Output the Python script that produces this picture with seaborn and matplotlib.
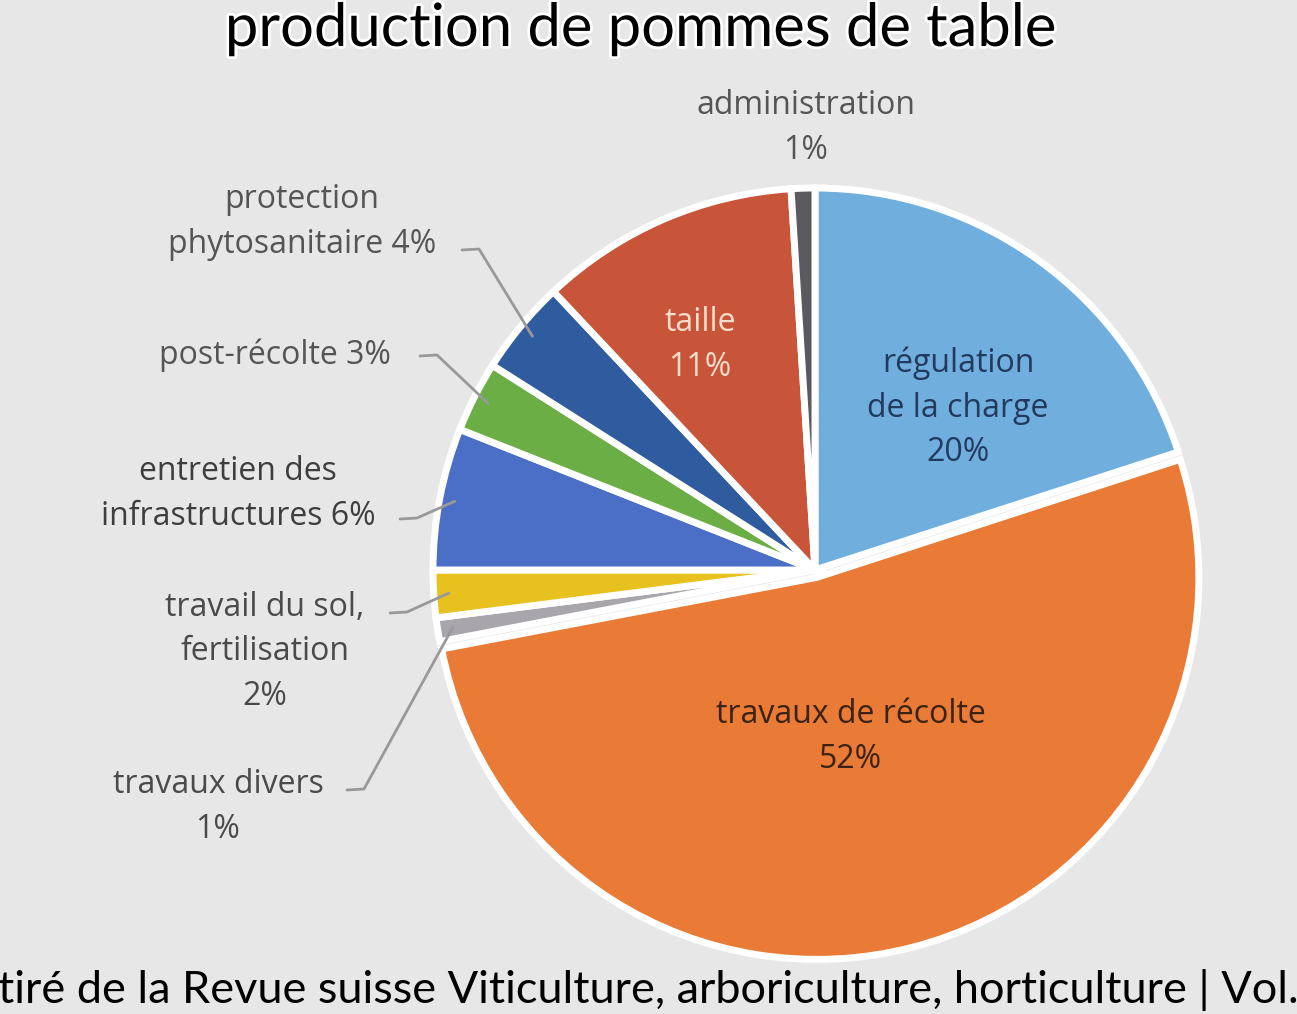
import numpy as np
import matplotlib.pyplot as plt
import matplotlib.patheffects as pe
import seaborn as sns

# --- data (share of working hours, %) ---
categories = ["régulation\nde la charge", "travaux de récolte", "travaux divers",
              "travail du sol,\nfertilisation", "entretien des\ninfrastructures",
              "post-récolte", "protection\nphytosanitaire", "taille", "administration"]
values = [20, 52, 1, 2, 6, 3, 4, 11, 1]
pct_sep = ["\n", "\n", "\n", "\n", " ", " ", " ", "\n", "\n"]
colors = ["#6FAEDD", "#E97B36", "#A9A5AD", "#E7C21E", "#4B6FC6",
          "#6CAE46", "#2F5C9F", "#C8543A", "#5A5A5E"]

title = "production de pommes de table"
source = "tiré de la Revue suisse Viticulture, arboriculture, horticulture | Vol."

# --- layout in pixels of the 1297x1014 canvas ---
W, H = 1297, 1014
CX, CY, R = 815, 570, 382
BG = "#E8E7E7"

# label centre (px), text colour, leader start (None = no leader)
label_layout = [
    ((958, 408), "#233A5E", None),
    ((851, 737), "#3B2314", None),
    ((218, 807), "#4A4A4A", (347, 790)),
    ((265, 652), "#4A4A4A", (390, 613)),
    ((238, 494), "#3E3E3E", (400, 519)),
    ((275, 355), "#555555", (420, 356)),
    ((302, 222), "#555555", (462, 250)),
    ((700, 345), "#F6DDCC", None),
    ((806, 128), "#555555", None),
]


def to_data(px, py):
    return (px - CX) / R, (CY - py) / R


sns.set_theme(style="white")
plt.rcParams["font.family"] = ["Open Sans", "DejaVu Sans"]

fig = plt.figure(figsize=(W / 100, H / 100), dpi=100, facecolor=BG)
ax = fig.add_axes([0, 0, 1, 1])

explode = [0.02 if v == max(values) else 0 for v in values]
wedges, _ = ax.pie(values, colors=colors, startangle=90, counterclock=False,
                   explode=explode,
                   wedgeprops=dict(edgecolor="white", linewidth=5))
ax.set_xlim(-CX / R, (W - CX) / R)
ax.set_ylim((CY - H) / R, CY / R)
ax.set_aspect("auto")
ax.axis("off")

for w, cat, v, sep, (pos, col, lead) in zip(wedges, categories, values, pct_sep, label_layout):
    x, y = to_data(*pos)
    ax.text(x, y, f"{cat}{sep}{v}%", ha="center", va="center", color=col,
            fontsize=23, linespacing=1.45)
    if lead is not None:
        mid = np.deg2rad((w.theta1 + w.theta2) / 2)
        cx, cy = w.center
        ex, ey = cx + 0.96 * np.cos(mid), cy + 0.96 * np.sin(mid)
        sx, sy = to_data(*lead)
        kx, ky = to_data(lead[0] + 17, lead[1] - 1)
        ax.plot([sx, kx, ex], [sy, ky, ey], color="#999999", lw=2.0,
                solid_capstyle="round", solid_joinstyle="round")

fig.text(641 / W, 1 - 46 / H, title, ha="center", va="baseline", fontsize=43,
         color="black", family=["Lato", "DejaVu Sans"],
         path_effects=[pe.withStroke(linewidth=4, foreground="white")])
fig.text(-2 / W, 1 - 1003 / H, source, ha="left", va="baseline", fontsize=32.5,
         color="black", family=["Lato", "DejaVu Sans"])

fig.savefig("out.png", dpi=100, facecolor=fig.get_facecolor())
